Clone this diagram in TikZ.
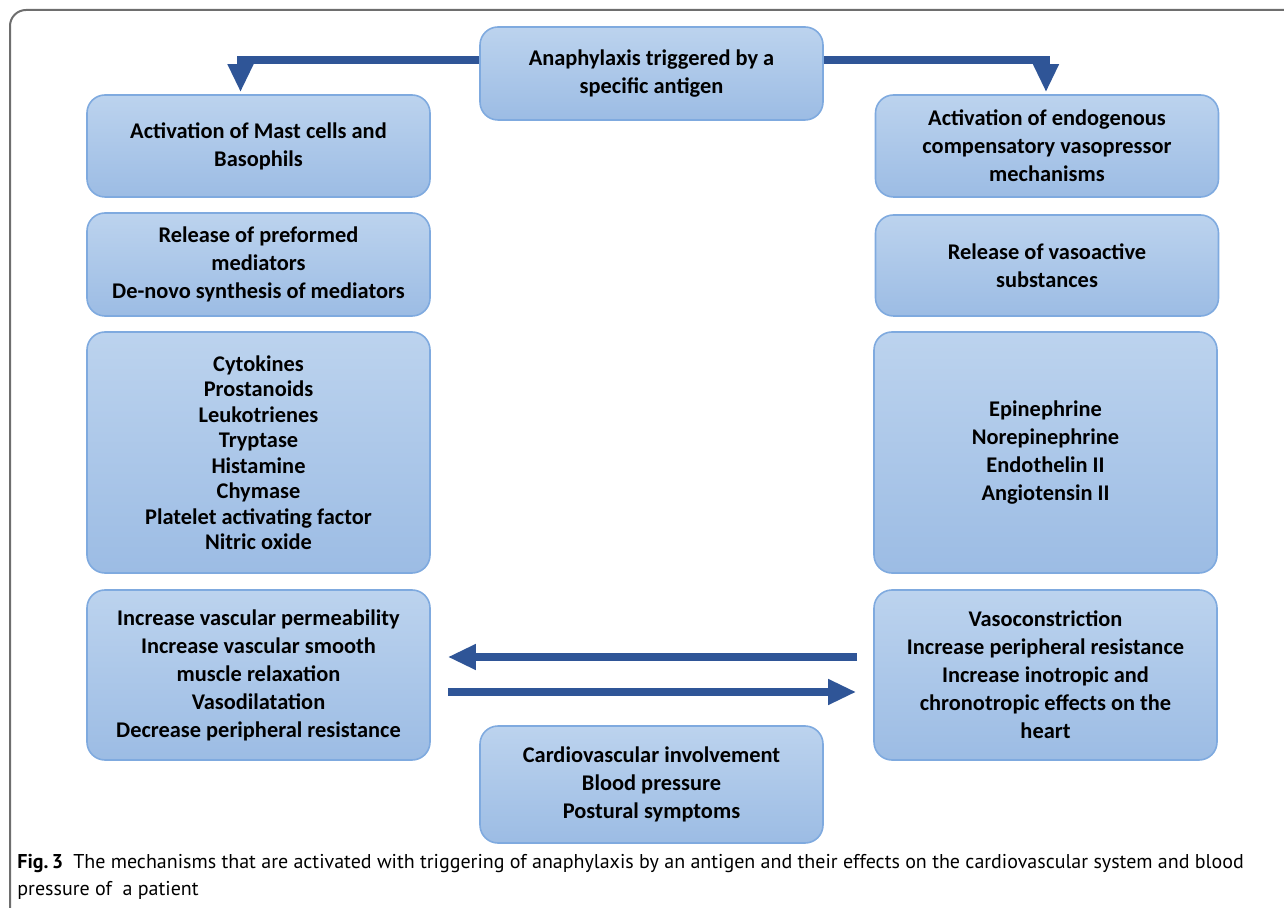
\documentclass[tikz,border=0pt]{standalone}
\usepackage{fontspec}
\setmainfont{Carlito}
\newfontfamily\capfont{PT Sans}
\usetikzlibrary{arrows.meta}

\definecolor{boxtop}{HTML}{BCD3EE}
\definecolor{boxbot}{HTML}{9CBCE4}
\definecolor{boxline}{HTML}{7FAADF}
\definecolor{arrowblue}{HTML}{2F5597}
\definecolor{framegray}{HTML}{6E6E6E}

\begin{document}
\begin{tikzpicture}[x=0.5pt, y=-0.5pt,
    box/.style={draw=boxline, line width=0.8pt, rounded corners=9pt,
        top color=boxtop, bottom color=boxbot, align=center, inner sep=0pt,
        minimum width=171.5pt, font=\bfseries\fontsize{11.2}{14}\selectfont},
    flow/.style={draw=arrowblue, line width=4pt, -{Triangle[width=12pt,length=14pt]}}]
    \useasboundingbox (0,0) rectangle (1284,908);

    % frame of the figure
    \draw[framegray, line width=1pt, rounded corners=8pt] (10,908) -- (10,10) -- (1284,10);

    \node[box, minimum height=46.5pt] (trigger) at (651.5,73.5) {Anaphylaxis triggered by a\\specific antigen};

    % left column
    \node[box, minimum height=51pt] (mast) at (258.5,146) {Activation of Mast cells and\\Basophils};
    \node[box, minimum height=51.5pt] (release) at (258.5,264.5) {Release of preformed\\mediators\\De-novo synthesis of mediators};
    \node[box, minimum height=120.5pt, font=\bfseries\fontsize{11.2}{12.75}\selectfont] (mediators) at (258.5,452.5)
        {Cytokines\\Prostanoids\\Leukotrienes\\Tryptase\\Histamine\\Chymase\\Platelet activating factor\\Nitric oxide};
    \node[box, minimum height=85pt] (perm) at (258.5,675) {Increase vascular permeability\\Increase vascular smooth\\muscle relaxation\\Vasodilatation\\Decrease peripheral resistance};

    % right column
    \node[box, minimum height=51pt] (endo) at (1047,146) {Activation of endogenous\\compensatory vasopressor\\mechanisms};
    \node[box, minimum height=50.5pt] (vasoactive) at (1047,265.5) {Release of vasoactive\\substances};
    \node[box, minimum height=120.5pt] (pressors) at (1045.5,452.5) {Epinephrine\\Norepinephrine\\Endothelin II\\Angiotensin II};
    \node[box, minimum height=85pt] (vaso) at (1045.5,675) {Vasoconstriction\\Increase peripheral resistance\\Increase inotropic and\\chronotropic effects on the\\heart};

    \node[box, minimum height=58.5pt] (cardio) at (651.5,784.5) {Cardiovascular involvement\\Blood pressure\\Postural symptoms};

    % arrows
    \draw[flow] ([yshift=6.5pt]trigger.west) -| ([xshift=-9pt,yshift=1pt]mast.north);
    \draw[flow] ([yshift=6.5pt]trigger.east) -| ([xshift=-0.5pt,yshift=1pt]endo.north);
    \draw[flow, shorten <=8pt, shorten >=8.5pt] ([yshift=9pt]vaso.west) -- ([yshift=9pt]perm.east);
    \draw[flow, shorten <=8.5pt, shorten >=8.5pt] ([yshift=-8.5pt]perm.east) -- ([yshift=-8.5pt]vaso.west);

    \node[anchor=north west, inner sep=0pt, align=left, font=\capfont\fontsize{10}{13.5}\selectfont] (caption) at (17,854)
        {\textbf{Fig.\,3}\enspace The mechanisms that are activated with triggering of anaphylaxis by an antigen and their effects on the cardiovascular system and blood\\pressure of \ a patient};
\end{tikzpicture}
\end{document}
